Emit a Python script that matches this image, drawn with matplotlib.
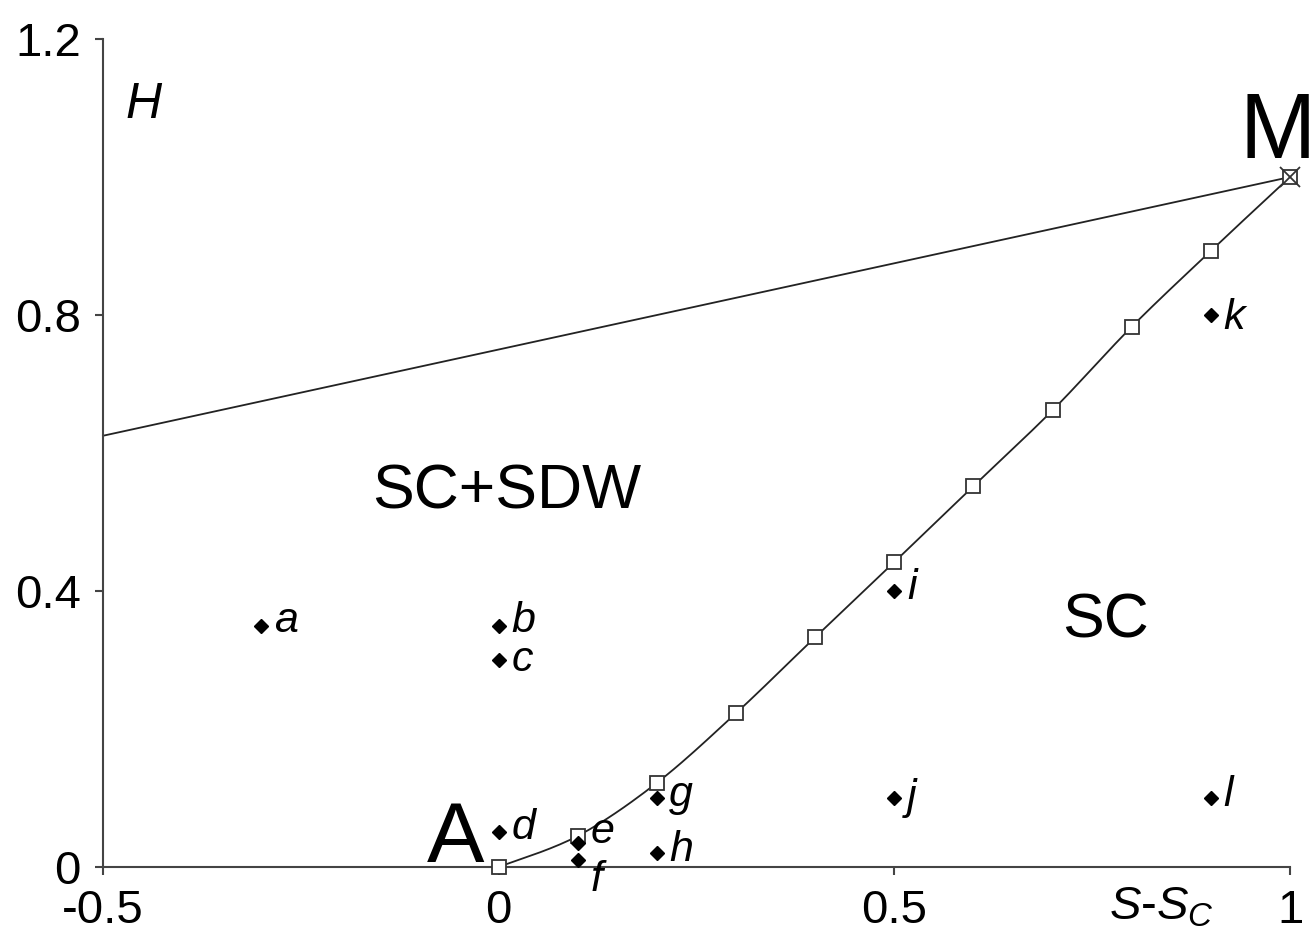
import numpy as np
import matplotlib
matplotlib.use("Agg")
import matplotlib.pyplot as plt

plt.rcParams['font.family'] = ['Liberation Sans', 'DejaVu Sans']
plt.rcParams['mathtext.fontset'] = 'custom'
plt.rcParams['mathtext.it'] = 'Liberation Sans:italic'
plt.rcParams['mathtext.rm'] = 'Liberation Sans'

# boundary between SC and SC+SDW (open squares)
bnd_x = [0, 0.1, 0.2, 0.3, 0.4, 0.5, 0.6, 0.7, 0.8, 0.9, 1.0]
bnd_y = [0, 0.045, 0.122, 0.223, 0.333, 0.442, 0.552, 0.662, 0.783, 0.893, 1.0]

# upper line ending at M
top_x = [-0.5, 1.0]
top_y = [0.625, 1.0]

# sample points
pt_names = ['a', 'b', 'c', 'd', 'e', 'f', 'g', 'h', 'i', 'j', 'k', 'l']
pt_x = [-0.3, 0, 0, 0, 0.1, 0.1, 0.2, 0.2, 0.5, 0.5, 0.9, 0.9]
pt_y = [0.35, 0.35, 0.30, 0.05, 0.035, 0.01, 0.10, 0.02, 0.40, 0.10, 0.80, 0.10]
pt_dy = [3, 3, 0, 3, 8, -14, 2, 2, 2, 0, -2, 2]


def smooth(xs, ys, n=20):
    # catmull-rom style bezier through the points (spreadsheet "smoothed line")
    p = np.column_stack([xs, ys]).astype(float)
    p = np.vstack([p[0], p, p[-1]])
    out = []
    t = np.linspace(0, 1, n)[:, None]
    for i in range(1, len(p) - 2):
        p0, p1, p2, p3 = p[i - 1], p[i], p[i + 1], p[i + 2]
        c1 = p1 + (p2 - p0) / 6
        c2 = p2 - (p3 - p1) / 6
        seg = ((1 - t) ** 3) * p1 + 3 * ((1 - t) ** 2) * t * c1 \
            + 3 * (1 - t) * t ** 2 * c2 + t ** 3 * p2
        out.append(seg if i == 1 else seg[1:])
    out = np.vstack(out)
    return out[:, 0], out[:, 1]


fig = plt.figure(figsize=(13.15, 9.43), dpi=100)
ax = fig.add_axes([0.0783, 0.0806, 0.9027, 0.878])

ax.plot(top_x, top_y, color='#222222', lw=1.3, clip_on=False)
sx, sy = smooth(bnd_x, bnd_y)
ax.plot(sx, sy, color='#222222', lw=1.3, clip_on=False)
ax.plot(bnd_x, bnd_y, ls='none', marker='s', ms=10,
        mfc='white', mec='#333333', mew=1.3, clip_on=False, zorder=3)
ax.plot([1.0], [1.0], marker='x', ms=14, mec='#333333', mew=1.3,
        clip_on=False, zorder=4)

ax.plot(pt_x, pt_y, ls='none', marker='D', ms=7, color='black',
        clip_on=False, zorder=5)
for n, x, y, dy in zip(pt_names, pt_x, pt_y, pt_dy):
    ax.annotate(n, (x, y), xytext=(9, dy), textcoords='offset points',
                fontsize=31, style='italic', va='center', ha='left')

ax.text(-0.472, 1.105, 'H', fontsize=36, style='italic', ha='left', va='center')
ax.text(0.984, 1.027, 'M', fontsize=66, ha='center', va='baseline')
ax.text(-0.018, 0.007, 'A', fontsize=62, ha='right', va='baseline')
ax.text(0.01, 0.543, 'SC+SDW', fontsize=45, ha='center', va='center')
ax.text(0.767, 0.357, 'SC', fontsize=45, ha='center', va='center')
ax.text(0.838, -0.058, r'$S$-$S_C$', fontsize=34, ha='center', va='center')

ax.set_xlim(-0.5, 1.0)
ax.set_ylim(0, 1.2)
ax.set_xticks([-0.5, 0, 0.5, 1])
ax.set_xticklabels(['-0.5', '0', '0.5', '1'])
ax.set_yticks([0, 0.4, 0.8, 1.2])
ax.set_yticklabels(['0', '0.4', '0.8', '1.2'])

for s in ['top', 'right']:
    ax.spines[s].set_visible(False)
for s in ['left', 'bottom']:
    ax.spines[s].set_color('#444444')
    ax.spines[s].set_linewidth(1.5)
ax.tick_params(direction='out', length=6, width=1.5, color='#444444',
               labelsize=34, pad=10)

fig.savefig('out.png', dpi=100)
